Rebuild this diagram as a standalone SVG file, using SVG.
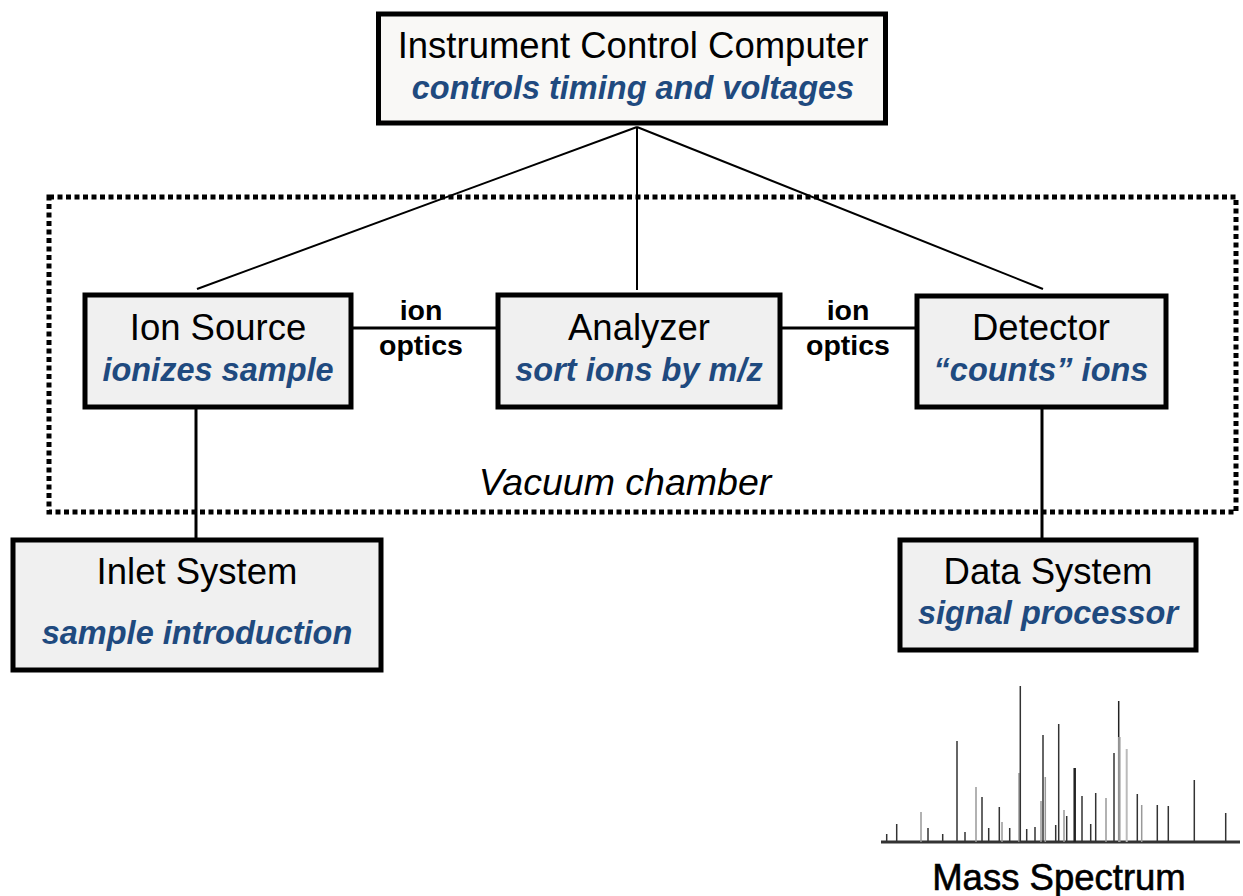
<svg xmlns="http://www.w3.org/2000/svg" width="1243" height="896" viewBox="0 0 1243 896">
<style>
.box{fill:#f0f0f0;stroke:#000;stroke-width:5}
.top{fill:#f9f8f6;stroke:#000;stroke-width:5}
.t{font-family:"Liberation Sans",Arial,sans-serif;font-size:36.5px;fill:#000;text-anchor:middle}
.s{font-family:"Liberation Sans",Arial,sans-serif;font-size:32.5px;font-weight:bold;font-style:italic;fill:#1f4a7f;text-anchor:middle}
.lbl{font-family:"Liberation Sans",Arial,sans-serif;font-size:28.5px;font-weight:bold;fill:#000;text-anchor:middle}
.ln{stroke:#000;stroke-width:3;fill:none}
.thin{stroke:#000;stroke-width:2;fill:none}
.pk{stroke:#333;stroke-width:1.5}
.pl{stroke:#999;stroke-width:1.5}
</style>
<rect id="vacuum" x="49" y="197" width="1187" height="315" fill="none" stroke="#000" stroke-width="5" stroke-dasharray="5 3.5"/>
<text x="625" y="495" class="t" style="font-style:italic;font-size:37.5px">Vacuum chamber</text>
<g id="connectors">
<line class="thin" x1="637" y1="127" x2="197" y2="289"/>
<line class="thin" x1="637" y1="127" x2="637" y2="290"/>
<line class="thin" x1="637" y1="127" x2="1043" y2="289"/>
<line class="ln" x1="353" y1="328" x2="498" y2="328"/>
<line class="ln" x1="780" y1="328" x2="917" y2="328"/>
<line class="ln" x1="196" y1="409" x2="196" y2="540"/>
<line class="ln" x1="1042" y1="409" x2="1042" y2="540"/>
<text x="421" y="320" class="lbl">ion</text>
<text x="421" y="355" class="lbl">optics</text>
<text x="848" y="320" class="lbl">ion</text>
<text x="848" y="355" class="lbl">optics</text>
</g>
<g id="computer">
<rect class="top" x="378.5" y="14" width="507" height="109"/>
<text x="633" y="58" class="t">Instrument Control Computer</text>
<text x="633" y="99" class="s">controls timing and voltages</text>
</g>
<g id="ionsource">
<rect class="box" x="85" y="295" width="266" height="112"/>
<text x="218" y="340" class="t">Ion Source</text>
<text x="218" y="381" class="s">ionizes sample</text>
</g>
<g id="analyzer">
<rect class="box" x="498" y="295" width="282" height="112"/>
<text x="639" y="340" class="t">Analyzer</text>
<text x="639" y="381" class="s">sort ions by m/z</text>
</g>
<g id="detector">
<rect class="box" x="917" y="296" width="249" height="111"/>
<text x="1041" y="340" class="t">Detector</text>
<text x="1041" y="381" class="s">“counts” ions</text>
</g>
<g id="inlet">
<rect class="box" x="13" y="540" width="368" height="130"/>
<text x="197" y="584" class="t">Inlet System</text>
<text x="197" y="644" class="s">sample introduction</text>
</g>
<g id="datasystem">
<rect class="box" x="900" y="540" width="296" height="110"/>
<text x="1048" y="584" class="t">Data System</text>
<text x="1048" y="624" class="s">signal processor</text>
</g>
<g id="spectrum">
<line x1="881" y1="842" x2="1240" y2="842" stroke="#333" stroke-width="3"/>
<line class="pk" x1="886.7" y1="842" x2="886.7" y2="834"/>
<line class="pk" x1="896.7" y1="842" x2="896.7" y2="824"/>
<line class="pl" x1="921" y1="842" x2="921" y2="812"/>
<line class="pk" x1="928" y1="842" x2="928" y2="828"/>
<line class="pk" x1="942.7" y1="842" x2="942.7" y2="834"/>
<line class="pk" x1="957" y1="842" x2="957" y2="741"/>
<line class="pk" x1="965" y1="842" x2="965" y2="832"/>
<line class="pl" x1="976" y1="842" x2="976" y2="787"/>
<line class="pk" x1="982" y1="842" x2="982" y2="797"/>
<line class="pk" x1="988.7" y1="842" x2="988.7" y2="828"/>
<line class="pk" x1="999.3" y1="842" x2="999.3" y2="807"/>
<line class="pl" x1="1002" y1="842" x2="1002" y2="822"/>
<line class="pk" x1="1009.7" y1="842" x2="1009.7" y2="828"/>
<line class="pl" x1="1019" y1="842" x2="1019" y2="773"/>
<line class="pk" x1="1020.3" y1="842" x2="1020.3" y2="686"/>
<line class="pk" x1="1026.7" y1="842" x2="1026.7" y2="829"/>
<line class="pk" x1="1035" y1="842" x2="1035" y2="827"/>
<line class="pl" x1="1041" y1="842" x2="1041" y2="801"/>
<line class="pk" x1="1043" y1="842" x2="1043" y2="735"/>
<line class="pl" x1="1045.3" y1="842" x2="1045.3" y2="777"/>
<line class="pk" x1="1055.7" y1="842" x2="1055.7" y2="825"/>
<line class="pk" x1="1058.7" y1="842" x2="1058.7" y2="724"/>
<line class="pl" x1="1064" y1="842" x2="1064" y2="810"/>
<line class="pk" x1="1066.7" y1="842" x2="1066.7" y2="816"/>
<line x1="1074.7" y1="842" x2="1074.7" y2="768" stroke="#222" stroke-width="2.5"/>
<line class="pk" x1="1082" y1="842" x2="1082" y2="796"/>
<line class="pk" x1="1090.7" y1="842" x2="1090.7" y2="824"/>
<line class="pk" x1="1095.7" y1="842" x2="1095.7" y2="793"/>
<line class="pl" x1="1106" y1="842" x2="1106" y2="798"/>
<line class="pk" x1="1114" y1="842" x2="1114" y2="753"/>
<line x1="1118.7" y1="842" x2="1118.7" y2="701" stroke="#222" stroke-width="1.5"/>
<line x1="1119.3" y1="842" x2="1119.3" y2="737" stroke="#999" stroke-width="2.5"/>
<line x1="1126.7" y1="842" x2="1126.7" y2="749" stroke="#bbb" stroke-width="2"/>
<line class="pk" x1="1137.3" y1="842" x2="1137.3" y2="794"/>
<line class="pl" x1="1141.7" y1="842" x2="1141.7" y2="805"/>
<line class="pk" x1="1157.3" y1="842" x2="1157.3" y2="805"/>
<line class="pk" x1="1168.3" y1="842" x2="1168.3" y2="806"/>
<line class="pk" x1="1194.3" y1="842" x2="1194.3" y2="780"/>
<line class="pk" x1="1225.7" y1="842" x2="1225.7" y2="813"/>
<text x="1059" y="890" class="t" style="font-size:36.5px;stroke:#000;stroke-width:0.6">Mass Spectrum</text>
</g>
</svg>
